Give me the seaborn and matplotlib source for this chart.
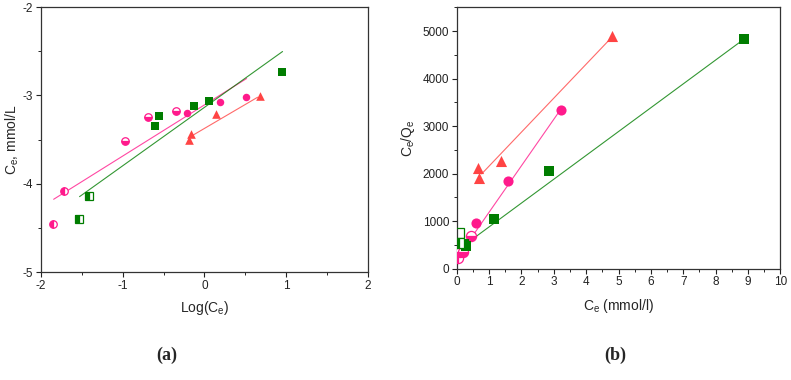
import matplotlib
matplotlib.use("Agg")
import matplotlib.pyplot as plt
import seaborn as sns
from matplotlib.ticker import MultipleLocator

PINK = "#ff1a8c"
GREEN = "#007d00"
RED = "#ff4444"

# (a) Freundlich-type plot: Log(Ce) vs Ce
a_pink_x = [-1.853, -1.715, -0.978, -0.685, -0.352, -0.213, 0.194, 0.507]
a_pink_y = [-4.456, -4.078, -3.511, -3.239, -3.175, -3.198, -3.073, -3.020]
a_pink_fill = ["left", "left", "bottom", "bottom", "bottom", "full", "full", "full"]
a_green_x = [-1.532, -1.418, -0.608, -0.551, -0.128, 0.059, 0.947]
a_green_y = [-4.399, -4.138, -3.341, -3.228, -3.118, -3.065, -2.737]
a_green_fill = ["left", "left", "full", "full", "full", "full", "full"]
a_red_x = [-0.189, -0.160, 0.137, 0.678]
a_red_y = [-3.504, -3.436, -3.209, -3.005]
a_pink_line_x, a_pink_line_y = [-1.845, 0.515], [-4.176, -2.808]
a_green_line_x, a_green_line_y = [-1.528, 0.955], [-4.146, -2.502]
a_red_line_x, a_red_line_y = [-0.136, 0.650], [-3.447, -3.020]

# (b) Langmuir-type plot: Ce vs Ce/Qe
b_pink_x = [0.03, 0.10, 0.20, 0.44, 0.60, 1.58, 3.22]
b_pink_y = [219, 358, 358, 680, 960, 1847, 3343]
b_pink_fill = ["left", "bottom", "bottom", "bottom", "full", "full", "full"]
b_green_x = [0.08, 0.08, 0.21, 0.28, 1.14, 2.84, 8.88]
b_green_y = [760, 545, 530, 485, 1053, 2065, 4831]
b_green_fill = ["none", "left", "full", "full", "full", "full", "full"]
b_red_x = [0.66, 0.70, 1.37, 4.79]
b_red_y = [2114, 1917, 2268, 4888]
b_pink_line_x, b_pink_line_y = [0.05, 0.46, 3.19], [330, 660, 3329]
b_green_line_x, b_green_line_y = [0.10, 8.88], [428, 4831]
b_red_line_x, b_red_line_y = [0.77, 4.76], [1994, 4846]

sns.set_style("ticks")
plt.rcParams["font.family"] = ["Liberation Sans", "DejaVu Sans"]
plt.rcParams["axes.unicode_minus"] = False

fig = plt.figure(figsize=(7.91, 3.80), dpi=100)
ax1 = fig.add_axes([0.0518, 0.2842, 0.4134, 0.6968])
ax2 = fig.add_axes([0.5774, 0.2929, 0.4091, 0.6880])


def draw_series(ax, xs, ys, fills, color, marker, ms):
    full_x = [x for x, f in zip(xs, fills) if f == "full"]
    full_y = [y for y, f in zip(ys, fills) if f == "full"]
    sns.scatterplot(x=full_x, y=full_y, color=color, marker=marker,
                    s=ms ** 2, linewidth=0, ax=ax, zorder=3)
    for x, y, f in zip(xs, ys, fills):
        if f == "full":
            continue
        ax.plot(x, y, marker=marker, ms=ms, color=color, fillstyle=f,
                markerfacecoloralt="white", mec=color, mew=0.9, ls="none", zorder=3)


def draw_line(ax, xs, ys, color):
    sns.lineplot(x=xs, y=ys, color=color, lw=0.8, alpha=0.8, ax=ax,
                 sort=False, estimator=None, zorder=2)


# panel (a)
draw_line(ax1, a_pink_line_x, a_pink_line_y, PINK)
draw_line(ax1, a_green_line_x, a_green_line_y, GREEN)
draw_line(ax1, a_red_line_x, a_red_line_y, RED)
draw_series(ax1, a_pink_x, a_pink_y, a_pink_fill, PINK, "o", 5.4)
draw_series(ax1, a_green_x, a_green_y, a_green_fill, GREEN, "s", 5.2)
draw_series(ax1, a_red_x, a_red_y, ["full"] * 4, RED, "^", 6.2)
ax1.set_xlim(-2, 2)
ax1.set_ylim(-5, -2)
ax1.xaxis.set_major_locator(MultipleLocator(1))
ax1.xaxis.set_minor_locator(MultipleLocator(0.5))
ax1.yaxis.set_major_locator(MultipleLocator(1))
ax1.yaxis.set_minor_locator(MultipleLocator(0.5))
ax1.set_xlabel("Log(C$_\\mathregular{e}$)", fontsize=10, labelpad=5)
ax1.set_ylabel("C$_\\mathregular{e}$, mmol/L", fontsize=10, labelpad=1)

# panel (b)
draw_line(ax2, b_pink_line_x, b_pink_line_y, PINK)
draw_line(ax2, b_green_line_x, b_green_line_y, GREEN)
draw_line(ax2, b_red_line_x, b_red_line_y, RED)
draw_series(ax2, b_pink_x, b_pink_y, b_pink_fill, PINK, "o", 7.3)
draw_series(ax2, b_green_x, b_green_y, b_green_fill, GREEN, "s", 6.8)
draw_series(ax2, b_red_x, b_red_y, ["full"] * 4, RED, "^", 8)
ax2.set_xlim(0, 10)
ax2.set_ylim(0, 5500)
ax2.xaxis.set_major_locator(MultipleLocator(1))
ax2.xaxis.set_minor_locator(MultipleLocator(0.5))
ax2.yaxis.set_major_locator(MultipleLocator(1000))
ax2.yaxis.set_minor_locator(MultipleLocator(500))
ax2.set_xlabel("C$_\\mathregular{e}$ (mmol/l)", fontsize=10, labelpad=6)
ax2.set_ylabel("C$_\\mathregular{e}$/Q$_\\mathregular{e}$", fontsize=10, labelpad=4)

for ax in (ax1, ax2):
    for sp in ax.spines.values():
        sp.set_visible(True)
        sp.set_color("#333333")
        sp.set_linewidth(0.9)
    ax.tick_params(which="major", length=3.5, width=0.8, labelsize=8.5,
                   colors="#222222", direction="out", pad=2)
    ax.tick_params(which="minor", length=2, width=0.7, direction="out")
    ax.tick_params(top=False, right=False, which="both")

fig.text(0.211, 0.065, "(a)", fontsize=13, fontweight="bold",
         family=["Liberation Serif", "DejaVu Serif"], ha="center", va="center")
fig.text(0.778, 0.065, "(b)", fontsize=13, fontweight="bold",
         family=["Liberation Serif", "DejaVu Serif"], ha="center", va="center")

fig.savefig("out.png", dpi=100)
